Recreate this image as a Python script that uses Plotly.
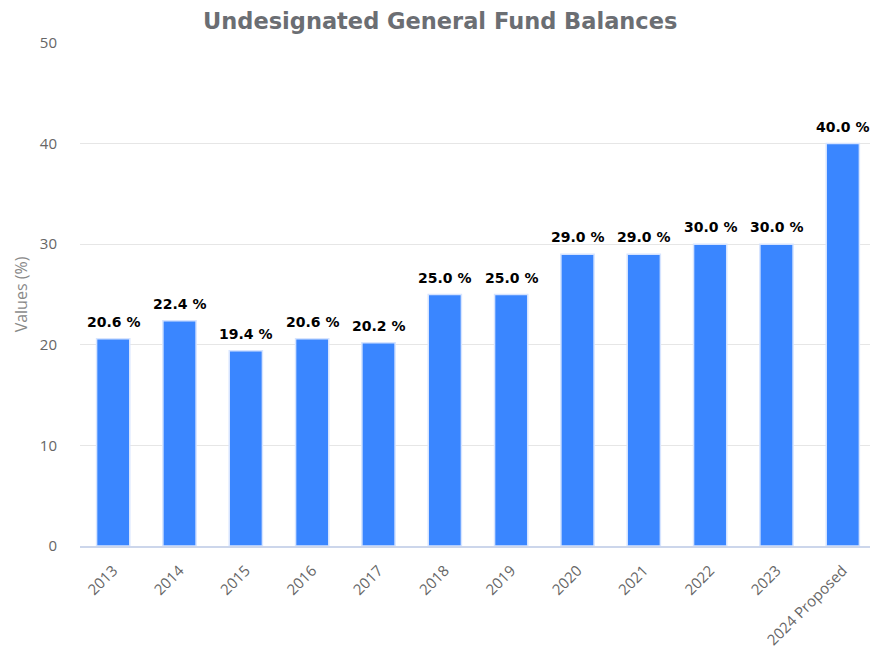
import plotly.graph_objects as go

years = ["2013", "2014", "2015", "2016", "2017", "2018", "2019", "2020",
         "2021", "2022", "2023", "2024 Proposed"]
balances = [20.6, 22.4, 19.4, 20.6, 20.2, 25.0, 25.0, 29.0, 29.0, 30.0, 30.0, 40.0]
y_ticks = [0, 10, 20, 30, 40, 50]

FONT = "Open Sans"
BOLD_FONT = "DejaVu Sans"

positions = list(range(len(years)))

fig = go.Figure(
    go.Bar(
        x=positions,
        y=balances,
        width=0.5,
        marker=dict(color="#3a86ff", line=dict(color="#d6e4ff", width=1.5)),
        hoverinfo="skip",
    )
)

# value labels above each bar
for xi, v in zip(positions, balances):
    fig.add_annotation(
        x=xi, y=v, xref="x", yref="y",
        text=f"<b>{v:.1f} %</b>",
        showarrow=False,
        yanchor="bottom",
        yshift=7,
        font=dict(family=BOLD_FONT, size=14, color="#000000"),
    )

fig.update_layout(
    width=870,
    height=659,
    paper_bgcolor="white",
    plot_bgcolor="white",
    margin=dict(l=80, r=0, t=43, b=113),
    showlegend=False,
    title=dict(
        text="<b>Undesignated General Fund Balances</b>",
        x=0.506, xanchor="center", xref="container",
        y=0.968, yanchor="middle", yref="container",
        font=dict(family=BOLD_FONT, size=22.5, color="#6b6e73"),
    ),
    xaxis=dict(
        tickmode="array",
        tickvals=positions,
        ticktext=years,
        tickangle=-45,
        range=[-0.5, 11.41],
        showgrid=False,
        showline=True,
        linecolor="#ccd6eb",
        linewidth=2,
        ticks="",
        ticklabelstandoff=8,
        tickfont=dict(family=FONT, size=15, color="#666666"),
    ),
    yaxis=dict(
        range=[0, 50],
        tickvals=y_ticks,
        showgrid=True,
        gridcolor="#e6e6e6",
        gridwidth=1,
        zeroline=False,
        ticks="",
        ticklabelstandoff=22,
        tickfont=dict(family=FONT, size=15, color="#666666"),
        title=dict(text="Values (%)", standoff=8,
                   font=dict(family=FONT, size=16, color="#888888")),
    ),
)

fig.write_html("out.html")
